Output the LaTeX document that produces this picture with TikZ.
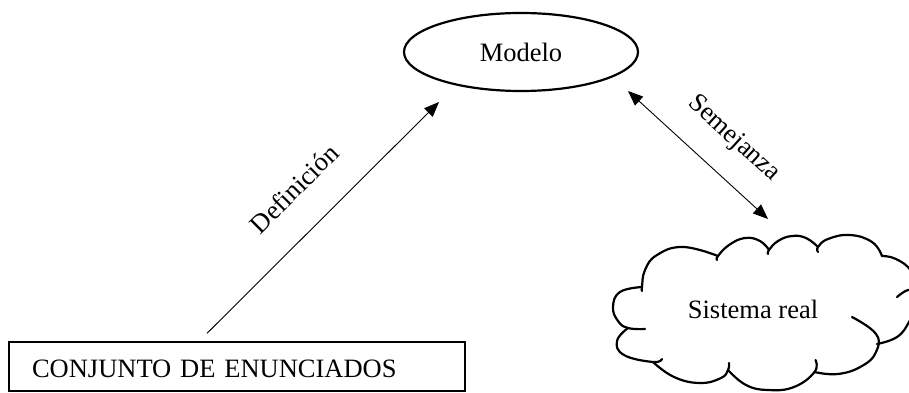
\documentclass[tikz,border=0pt]{standalone}
\usepackage{fontspec}
\setmainfont{Liberation Serif}
\usetikzlibrary{shapes.geometric, arrows.meta, calc}

\begin{document}
\begin{tikzpicture}[x=1pt, y=-1pt,
    font=\fontsize{26.5}{30}\selectfont,
    shapeline/.style={line width=2.2pt},
    puff/.style={line width=2.2pt, line cap=round, line join=round},
    link/.style={line width=0.9pt, -{Triangle[length=15pt, width=12pt]}},
    bothlink/.style={line width=0.9pt, {Triangle[length=15pt, width=12pt]}-{Triangle[length=15pt, width=12pt]}}
    ]
    \useasboundingbox (0,0) rectangle (909,393);

    \node[draw, shapeline, ellipse, minimum width=234pt, minimum height=78pt, inner sep=0pt] (modelo) at (521,52) {Modelo};
    \node[draw, line width=1.3pt, minimum height=49pt, text width=410pt, inner xsep=23pt,
          text height=21pt, text depth=0pt, align=left] (enunciados) at (237,366.5) {CONJUNTO DE ENUNCIADOS};
    \node[inner sep=0pt] (sistema) at (753,309) {Sistema real};

    % cloud round Sistema real, one puff at a time
    \draw[puff] plot[smooth, tension=0.75] coordinates {(718,256) (683,247) (657,255) (645,270) (642,287) (642,291)};
    \draw[puff] plot[smooth, tension=0.75] coordinates {(642,287) (620,292) (613,307) (618,321) (628,328) (645,329)};
    \draw[puff] plot[smooth, tension=0.75] coordinates {(628,328) (617,341) (624,355) (653,362) (662,359)};
    \draw[puff] plot[smooth, tension=0.75] coordinates {(653,362) (674,377) (700,383) (721,378) (728,370) (729,363)};
    \draw[puff] plot[smooth, tension=0.75] coordinates {(728,370) (746,385) (768,390) (794,387) (814.5,372) (815.5,360)};
    \draw[puff] plot[smooth, tension=0.75] coordinates {(814.5,372) (838,374) (862,366) (876,352) (876,334) (852,317)};
    \draw[puff] plot[smooth, tension=0.75] coordinates {(877,344) (897,337) (909,322) (915,306) (916,293) (908,290) (897,297)};
    \draw[puff] plot[smooth, tension=0.75] coordinates {(916,290) (911,271) (896,259) (882,256)};
    \draw[puff] plot[smooth, tension=0.75] coordinates {(882,256) (872,242) (850,235) (828,239) (818,247) (818,252)};
    \draw[puff] plot[smooth, tension=0.75] coordinates {(818,247) (806,238) (792,236) (778,241) (769,250) (768,254)};
    \draw[puff] plot[smooth, tension=0.75] coordinates {(769,250) (760,241) (745,238) (729,245) (718,256) (717,260)};

    \coordinate (defStart) at ($(enunciados.north) + (-30,-8)$);
    \coordinate (defEnd) at ($(modelo.center) + (-82,50)$);
    \coordinate (semTop) at ($(modelo.center) + (107,39)$);
    \coordinate (semBottom) at ($(sistema.center) + (15,-90)$);

    \draw[link] (defStart) -- node[sloped, above=31pt, inner sep=0pt] (definicion) {Definición} (defEnd);
    \draw[bothlink] (semTop) -- node[pos=0.58, sloped, above=24pt, inner sep=0pt] (semejanza) {Semejanza} (semBottom);
\end{tikzpicture}
\end{document}
